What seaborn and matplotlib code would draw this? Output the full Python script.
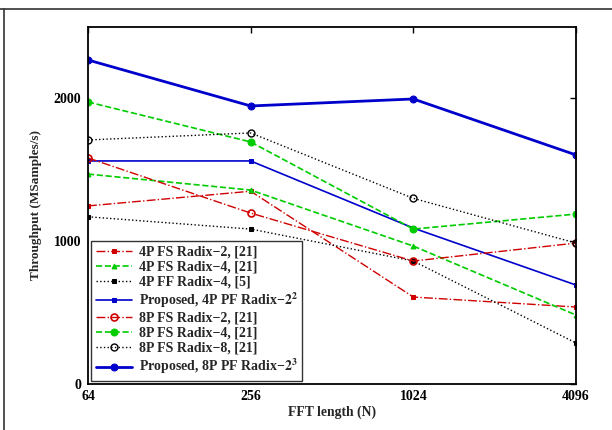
import matplotlib
matplotlib.use("Agg")
import matplotlib.pyplot as plt
import seaborn as sns
from matplotlib.lines import Line2D

# ---- data ----
fft_len = [64, 256, 1024, 4096]
tick_labels = ["64", "256", "1024", "4096"]
fs2_4p = [1247, 1350, 609, 539]
fs4_4p = [1470, 1358, 966, 483]
ff4_4p = [1171, 1085, 861, 287]
prop_4p = [1562, 1562, 1092, 693]
fs2_8p = [1583, 1197, 861, 987]
fs4_8p = [1975, 1695, 1085, 1190]
fs8_8p = [1709, 1758, 1300, 987]
prop_8p = [2269, 1947, 1996, 1604]
series_labels = [
    "4P FS Radix\u22122, [21]",
    "4P FS Radix\u22124, [21]",
    "4P FF Radix\u22124, [5]",
    "Proposed, 4P PF Radix\u2212$\\mathbf{2^2}$",
    "8P FS Radix\u22122, [21]",
    "8P FS Radix\u22124, [21]",
    "8P FS Radix\u22128, [21]",
    "Proposed, 8P PF Radix\u2212$\\mathbf{2^3}$",
]

sns.set_theme(style="white")
plt.rcParams["font.family"] = ["Liberation Serif", "DejaVu Serif"]
plt.rcParams["mathtext.fontset"] = "stix"
plt.rcParams["font.weight"] = "bold"

fig = plt.figure(figsize=(6.12, 4.30), dpi=100)
ax = fig.add_axes([88 / 612, 1 - 384 / 430, 488 / 612, 357 / 430])

styles = [
    (fs2_4p, dict(color="#d00000", linestyle="-.", marker="s", markersize=3, lw=1.0)),
    (fs4_4p, dict(color="#00cc00", linestyle="--", marker="^", markersize=3.5, lw=1.2)),
    (ff4_4p, dict(color="black", linestyle=":", marker="s", markersize=3, lw=1.0)),
    (prop_4p, dict(color="#0000cc", linestyle="-", marker="s", markersize=3, lw=1.2)),
    (fs2_8p, dict(color="#d00000", linestyle="-.", marker="o", markersize=5, lw=1.0,
                  markerfacecolor="none", markeredgewidth=1.2)),
    (fs4_8p, dict(color="#00cc00", linestyle="--", marker="o", markersize=5, lw=1.2)),
    (fs8_8p, dict(color="black", linestyle=":", marker="o", markersize=5, lw=1.0,
                  markerfacecolor="none", markeredgewidth=1.0)),
    (prop_8p, dict(color="#0000cc", linestyle="-", marker="o", markersize=5, lw=2.0)),
]

for (vals, kw), lab in zip(styles, series_labels):
    sns.lineplot(x=fft_len, y=vals, ax=ax, label=lab, markeredgecolor=kw["color"], **kw)

ax.set_xscale("log", base=2)
ax.set_xlim(64, 4096)
ax.set_ylim(0, 2500)
ax.set_xticks(fft_len)
ax.set_xticklabels(tick_labels)
ax.minorticks_off()
ax.set_yticks([0, 1000, 2000])
ax.set_yticklabels(["0", "1000", "2000"])
ax.tick_params(direction="in", top=True, right=True, length=4, width=1,
               labelsize=10, colors="black")
ax.tick_params(axis="x", pad=4)
ax.tick_params(axis="y", pad=5)
for s in ax.spines.values():
    s.set_color("black")
    s.set_linewidth(1.3)

ax.set_xlabel("FFT length (N)", fontsize=9.8, fontweight="bold", labelpad=2)
ax.set_ylabel("Throughput (MSamples/s)", fontsize=9.5, fontweight="bold", labelpad=8)

leg = ax.legend(loc="lower left", prop={"size": 10, "weight": "bold"}, frameon=True,
                fancybox=False, edgecolor="black", handlelength=2.6, labelspacing=0.14,
                borderpad=0.3, borderaxespad=0.25, handletextpad=0.5)
leg.get_frame().set_linewidth(1.0)

# surrounding border lines of the original cell
fig.add_artist(Line2D([0, 1], [1 - 8.5 / 430, 1 - 8.5 / 430], color="#333333", lw=1.2,
                      transform=fig.transFigure))
fig.add_artist(Line2D([4 / 612, 4 / 612], [0, 1 - 8.5 / 430], color="#333333", lw=1.2,
                      transform=fig.transFigure))

fig.savefig("out.png", dpi=100)
